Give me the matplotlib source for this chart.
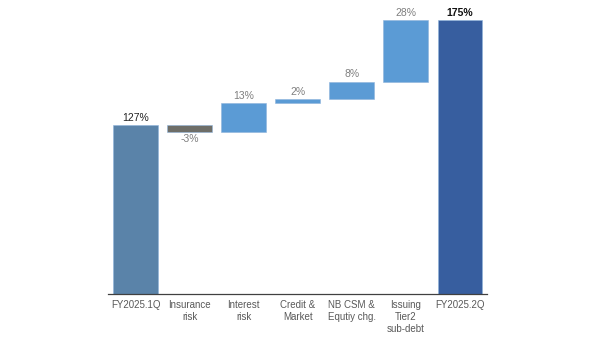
import matplotlib
matplotlib.use("Agg")
import matplotlib.pyplot as plt

plt.rcParams["font.family"] = ["Liberation Sans", "DejaVu Sans"]

categories = ["FY2025.1Q", "Insurance\nrisk", "Interest\nrisk", "Credit &\nMarket",
              "NB CSM &\nEqutiy chg.", "Issuing\nTier2\nsub-debt", "FY2025.2Q"]
start_value = 127
changes = [-3, 13, 2, 8, 28]
end_value = 175

c_start = "#5a83a9"
c_neg = "#6e6e68"
c_pos = "#5b9bd5"
c_end = "#375e9f"

fig = plt.figure(figsize=(6, 3.4), dpi=100)
ax = fig.add_axes([0.18, 0.1353, 0.6317, 0.8375])

bottoms, heights, colors = [], [], []
bottoms.append(0); heights.append(start_value); colors.append(c_start)
level = start_value
for c in changes:
    if c >= 0:
        bottoms.append(level); heights.append(c); colors.append(c_pos)
    else:
        bottoms.append(level + c); heights.append(-c); colors.append(c_neg)
    level += c
bottoms.append(0); heights.append(end_value); colors.append(c_end)

x = list(range(len(categories)))
ax.bar(x, heights, bottom=bottoms, width=0.83, color=colors,
       edgecolor="#8fb4dc", linewidth=0.4)

ax.text(0, start_value + 1.0, f"{start_value}%", ha="center", va="bottom",
        fontsize=7.5, color="#222222")
level = start_value
for i, c in enumerate(changes, start=1):
    if c >= 0:
        ax.text(i, level + c + 1.0, f"{c}%", ha="center", va="bottom",
                fontsize=7.5, color="#7f7f7f")
    else:
        ax.text(i, level + c - 1.0, f"{c}%", ha="center", va="top",
                fontsize=7.5, color="#7f7f7f")
    level += c
ax.text(len(categories) - 1, end_value + 1.0, f"{end_value}%", ha="center",
        va="bottom", fontsize=7.5, color="#111111", fontweight="bold")

ax.set_ylim(50, 180)
ax.set_xlim(-0.51, 6.5)
ax.set_xticks(x)
ax.set_xticklabels(categories, fontsize=7, color="#595959", linespacing=1.3)
ax.tick_params(axis="x", length=0, pad=4)
ax.set_yticks([])
for s in ["top", "right", "left"]:
    ax.spines[s].set_visible(False)
ax.spines["bottom"].set_color("#404040")
ax.spines["bottom"].set_linewidth(0.9)

fig.savefig("out.png", dpi=100)
